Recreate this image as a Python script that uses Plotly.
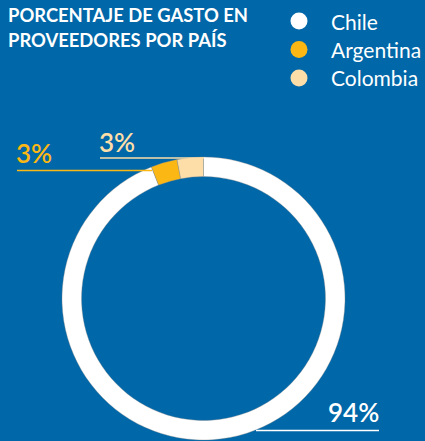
import plotly.graph_objects as go

# Share of supplier spend by country
countries = ["Chile", "Argentina", "Colombia"]
shares = [94, 3, 3]
colors = ["#FFFFFF", "#FBB713", "#FDDEA8"]

title_lines = ["PORCENTAJE DE GASTO EN", "PROVEEDORES POR PAÍS"]

BG = "#0067A8"
W, H = 425, 441

fig = go.Figure()

# Ring chart: centre (203.5, 298.5) px, radius 141.5 px
cx, cy, r = 203.5, 298.5, 141.5
fig.add_trace(go.Pie(
    labels=countries,
    values=shares,
    sort=False,
    direction="clockwise",
    rotation=0,
    hole=0.862,
    marker=dict(colors=colors, line=dict(color="rgba(140,140,140,0.6)", width=0.6)),
    textinfo="none",
    hoverinfo="label+percent",
    showlegend=False,
    domain=dict(x=[(cx - r) / W, (cx + r) / W],
                y=[(H - cy - r) / H, (H - cy + r) / H]),
))


def px_x(x):
    return x / W


def px_y(y):
    return 1 - y / H


annotations = []
shapes = []

# Title
for i, line in enumerate(title_lines):
    annotations.append(dict(
        x=px_x(6), y=px_y(15 + 25 * i), xref="paper", yref="paper",
        xanchor="left", yanchor="middle", showarrow=False,
        text=line,
        font=dict(family="Lato", size=18.4, color="#FFFFFF", weight=700),
    ))

# Legend with round markers
for i, (name, col) in enumerate(zip(countries, colors)):
    yc = 21 + 28.5 * i
    shapes.append(dict(
        type="circle", xref="paper", yref="paper",
        x0=px_x(299 - 8.5), x1=px_x(299 + 8.5),
        y0=px_y(yc - 8.5), y1=px_y(yc + 8.5),
        fillcolor=col, line=dict(width=0),
    ))
    annotations.append(dict(
        x=px_x(329), y=px_y(yc), xref="paper", yref="paper",
        xanchor="left", yanchor="middle", showarrow=False,
        text=name,
        font=dict(family="Lato", size=21, color="#FFFFFF", weight=400),
    ))

# Value labels with leader underlines: (text x, text centre y, line x0, line x1, line y)
label_pos = {
    "Chile": (326, 412, 256, 379, 430.5),
    "Argentina": (14, 153, 17, 152, 170.5),
    "Colombia": (97, 142, 100, 204, 158),
}
for name, val, col in zip(countries, shares, colors):
    tx, ty, lx0, lx1, ly = label_pos[name]
    annotations.append(dict(
        x=px_x(tx), y=px_y(ty), xref="paper", yref="paper",
        xanchor="left", yanchor="middle", showarrow=False,
        text=f"{val}%",
        font=dict(family="Lato", size=26, color=col, weight=600),
    ))
    shapes.append(dict(
        type="line", xref="paper", yref="paper",
        x0=px_x(lx0), x1=px_x(lx1), y0=px_y(ly), y1=px_y(ly),
        line=dict(color=col, width=1.3),
    ))

fig.update_layout(
    width=W, height=H,
    margin=dict(l=0, r=0, t=0, b=0),
    paper_bgcolor=BG,
    plot_bgcolor=BG,
    annotations=annotations,
    shapes=shapes,
)

fig.write_html("out.html")
